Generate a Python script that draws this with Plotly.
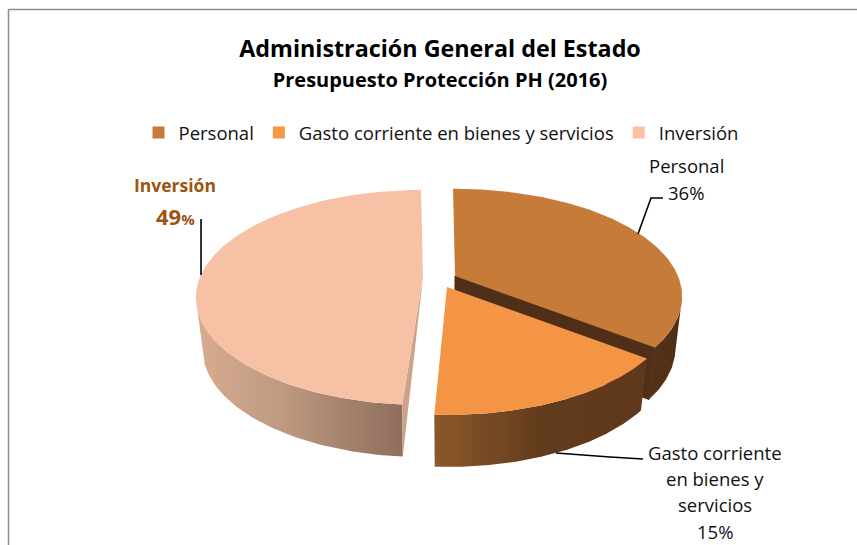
import numpy as np
import plotly.graph_objects as go

# ---- data ----
categories = ["Personal", "Gasto corriente en bienes y servicios", "Inversión"]
shares = [35.6, 15.3, 49.1]
title_text = "Administración General del Estado"
subtitle_text = "Presupuesto Protección PH (2016)"

# ---- style / projection ----
W, H = 857, 545
FONT = "Open Sans"
top_colors = ["#c77b38", "#f39545", "#f7c1a5"]
legend_colors = ["#c77b38", "#f79646", "#fac09f"]
wall_scales = [
    [[0, "#523116"], [1, "#4f2f17"]],
    [[0, "#8c5829"], [0.5, "#633c1d"], [1, "#5f381b"]],
    [[0, "#d8ac90"], [0.4, "#c09a82"], [1, "#8e6e5c"]],
]
cut_colors = ["#4f2f17", None, "#cda28a"]
apex = [(455, 276), (447, 287), (423, 277)]
start_trim = [0, 0, 1.7]
ROT = -0.6
R, RY, K, DEPTH, BASE_SX = 223, 103.7, 0.19, 52, 0.97
SILHOUETTE = np.degrees(np.arccos(-K))  # where the projected rim turns back


def top_pt(a, theta):
    t = np.radians(theta)
    s = 1 / (1 + K * np.cos(t))
    return a[0] + R * np.sin(t) * s, a[1] - RY * np.cos(t) * s


def low_pt(a, theta):
    x, y = top_pt(a, theta)
    return a[0] + (x - a[0]) * BASE_SX, y + DEPTH


fig = go.Figure()


def poly(xs, ys, color=None, scale=None, edge=0):
    kw = dict(fillgradient=dict(type="horizontal", colorscale=scale)) if scale else dict(fillcolor=color)
    ln = dict(width=edge, color=color) if edge else dict(width=0)
    fig.add_trace(go.Scatter(x=list(xs), y=list(ys), mode="lines", fill="toself", line=ln,
                             hoverinfo="skip", showlegend=False, **kw))


bounds = ROT + np.cumsum([0] + shares) / sum(shares) * 360
for i in range(3):
    a = apex[i]
    t0, t1 = bounds[i] + start_trim[i], bounds[i + 1]
    arc = np.linspace(t0, t1, 160)
    # outer wall (front-facing part of the rim)
    wall = arc[(arc > SILHOUETTE) & (arc < 360 - SILHOUETTE)]
    tx, ty = zip(*[top_pt(a, t) for t in wall])
    bx, by = zip(*[low_pt(a, t) for t in wall[::-1]])
    poly(list(tx) + list(bx) + [tx[0]], list(ty) + list(by) + [ty[0]], scale=wall_scales[i])
    # cut face
    if cut_colors[i]:
        edge = t1 if i == 0 else t0
        ex, ey = top_pt(a, edge)
        lx, ly = low_pt(a, edge)
        if i == 0:
            poly([a[0], ex, lx, a[0], a[0]], [a[1], ey, ly, a[1] + DEPTH, a[1]], color=cut_colors[i], edge=1)
        else:
            poly([a[0], ex, lx, a[0]], [a[1], ey, ly, a[1]], color=cut_colors[i])
    # top surface
    px, py = zip(*[top_pt(a, t) for t in arc])
    poly([a[0]] + list(px) + [a[0]], [a[1]] + list(py) + [a[1]], color=top_colors[i])

# legend entries
for c, col in zip(categories, legend_colors):
    fig.add_trace(go.Scatter(x=[None], y=[None], mode="markers", name=c,
                             marker=dict(symbol="square", size=12, color=col)))

# leader lines and chart border
line = dict(color="black", width=1.6)
shapes = [
    dict(type="line", x0=8.5, x1=8.5, y0=9.5, y1=545, line=dict(color="#8c8c8c", width=1.5)),
    dict(type="line", x0=8.5, x1=857, y0=9.5, y1=9.5, line=dict(color="#8c8c8c", width=1.5)),
    dict(type="path", path="M638,234 L651,198 L663,198", line=line),
    dict(type="path", path="M201,275 L201,219", line=line),
    dict(type="path", path="M556,453 L610,457 L643,459", line=line),
]


def note(x, y, text, size=18.5, color="#111111"):
    return dict(x=x, y=y, text=text, showarrow=False, xanchor="center", yanchor="middle",
                font=dict(family=FONT, size=size, color=color))


brown = "#9c5410"
annotations = [
    note(686, 165, categories[0]),
    note(686, 192, f"{shares[0]:.0f}%"),
    note(715, 452, "Gasto corriente"),
    note(715, 478, "en bienes y"),
    note(715, 504, "servicios"),
    note(715, 531, f"{shares[1]:.0f}%"),
    note(175, 185, f"<b>{categories[2]}</b>", size=17.5, color=brown),
    note(175, 216, f"<b>{shares[2]:.0f}<span style='font-size:15px'>%</span></b>", size=22, color=brown),
]

fig.update_layout(
    width=W, height=H, margin=dict(l=0, r=0, t=0, b=0),
    paper_bgcolor="white", plot_bgcolor="white",
    font=dict(family=FONT, color="#111111"),
    title=dict(text=f"<b>{title_text}</b><br><span style='font-size:20px'><b>{subtitle_text}</b></span>",
               x=440 / W, xanchor="center", y=1 - 57 / H, yanchor="middle",
               font=dict(family=FONT, size=23.3, color="black")),
    xaxis=dict(range=[0, W], visible=False, fixedrange=True),
    yaxis=dict(range=[H, 0], visible=False, fixedrange=True),
    legend=dict(orientation="h", x=441 / W, xanchor="center", y=1 - 133 / H, yanchor="middle",
                font=dict(family=FONT, size=18.5, color="#111111"), bgcolor="rgba(0,0,0,0)"),
    shapes=shapes, annotations=annotations,
)

fig.write_html("out.html", config={"displayModeBar": False},
               post_script="document.body.style.margin='0';document.body.style.overflow='hidden';")
